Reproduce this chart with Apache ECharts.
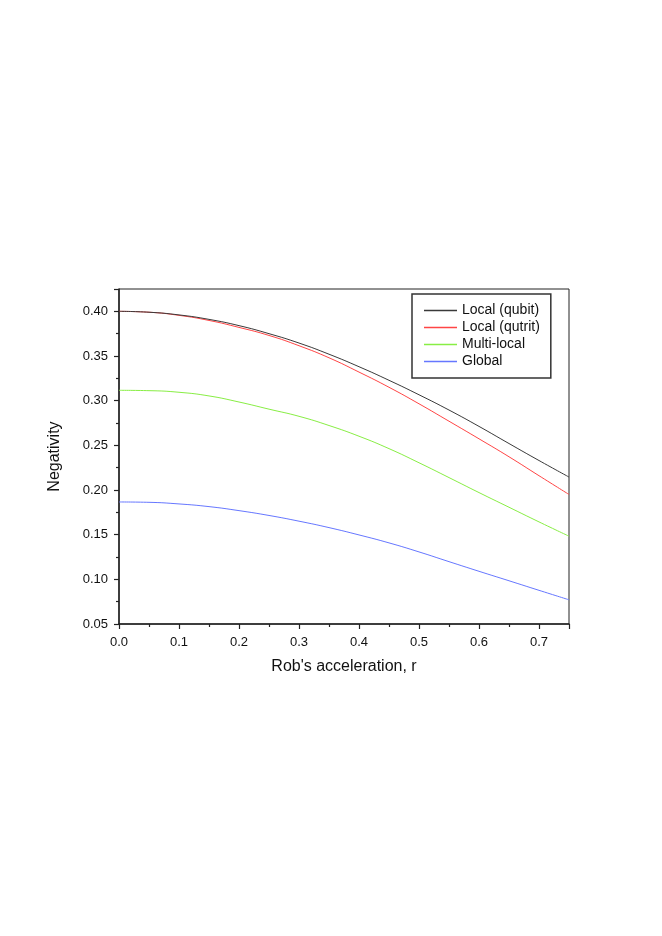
<!DOCTYPE html>
<html>
<head>
<meta charset="utf-8">
<script src="https://cdn.jsdelivr.net/npm/echarts@6/dist/echarts.min.js"></script>
<style>
html,body{margin:0;padding:0;background:#fff;}
#chart{width:662px;height:936px;}
</style>
</head>
<body>
<div id="chart"></div>
<script>
var accel = [0.00,0.05,0.10,0.15,0.20,0.25,0.30,0.35,0.40,0.45,0.50,0.55,0.60,0.65,0.70,0.75];
var localQubit = [0.400,0.399,0.396,0.391,0.384,0.375,0.3645,0.352,0.338,0.3228,0.3066,0.2895,0.2712,0.252,0.233,0.2145];
var localQutrit = [0.400,0.399,0.3955,0.3898,0.382,0.373,0.3615,0.348,0.332,0.315,0.2965,0.277,0.2573,0.2372,0.216,0.195];
var multiLocal = [0.3116,0.3112,0.3094,0.3053,0.2985,0.2905,0.2825,0.2722,0.2602,0.2463,0.2305,0.2139,0.1971,0.1807,0.1643,0.1483];
var globalNeg = [0.1866,0.1862,0.1844,0.1814,0.1769,0.1715,0.1651,0.1579,0.1497,0.1408,0.1307,0.1198,0.1090,0.0984,0.0877,0.0771];
var seriesNames = ['Local (qubit)','Local (qutrit)','Multi-local','Global'];
var xTickLabels = ['0.0','0.1','0.2','0.3','0.4','0.5','0.6','0.7'];
var yTickLabels = ['0.05','0.10','0.15','0.20','0.25','0.30','0.35','0.40'];

function pairs(ys){ return accel.map(function(x,i){ return [x, ys[i]]; }); }

var colors = ['#3a3a3a','#ff4545','#88ee44','#6677ff'];
var font = 'Liberation Sans, Arial, sans-serif';

var chart = echarts.init(document.getElementById('chart'), null, {renderer:'canvas'});
var allData = [localQubit, localQutrit, multiLocal, globalNeg];

chart.setOption({
  animation:false,
  backgroundColor:'#ffffff',
  grid:{left:119,right:93,top:289,bottom:312,show:true,borderColor:'#222',borderWidth:1,backgroundColor:'transparent'},
  legend:{
    orient:'vertical', left:412, top:294,
    data:seriesNames,
    icon:'rect', itemWidth:33, itemHeight:1.5, itemGap:0, itemTextGap:3,
    padding:[8,11,8,12],
    borderColor:'#333', borderWidth:1.5,
    textStyle:{fontFamily:font,fontSize:14,color:'#111',lineHeight:17}
  },
  xAxis:{
    type:'value', min:0, max:0.75, interval:0.1,
    name:"Rob's acceleration, r", nameLocation:'middle', nameGap:35,
    nameTextStyle:{fontFamily:font,fontSize:16,color:'#111'},
    axisLine:{show:true,onZero:false,lineStyle:{color:'#222',width:1.5}},
    axisTick:{show:true,inside:false,length:5,lineStyle:{color:'#222',width:1.2}},
    minorTick:{show:true,splitNumber:2,length:3,lineStyle:{color:'#222',width:1.2}},
    splitLine:{show:false},
    axisLabel:{margin:12,fontFamily:font,fontSize:13,color:'#111',
      formatter:function(v){ var i=Math.round(v*10); return (Math.abs(v*10-i)<1e-6 && i<xTickLabels.length) ? xTickLabels[i] : ''; }}
  },
  yAxis:{
    type:'value', min:0.05, max:0.425, interval:0.05,
    name:'Negativity', nameLocation:'middle', nameGap:56, nameRotate:90,
    nameTextStyle:{fontFamily:font,fontSize:16,color:'#111'},
    axisLine:{show:true,onZero:false,lineStyle:{color:'#222',width:1.5}},
    axisTick:{show:true,inside:false,length:5,lineStyle:{color:'#222',width:1.2}},
    minorTick:{show:true,splitNumber:2,length:3,lineStyle:{color:'#222',width:1.2}},
    splitLine:{show:false},
    axisLabel:{margin:11,fontFamily:font,fontSize:13,color:'#111',
      formatter:function(v){ var i=Math.round((v-0.05)/0.05); return (Math.abs((v-0.05)/0.05-i)<1e-6 && i<yTickLabels.length) ? yTickLabels[i] : ''; }}
  },
  series: seriesNames.map(function(n,k){
    return {name:n,type:'line',data:pairs(allData[k]),smooth:0.5,showSymbol:false,symbol:'none',
      lineStyle:{color:colors[k],width:1},itemStyle:{color:colors[k]},z:10-k};
  })
});
</script>
</body>
</html>
